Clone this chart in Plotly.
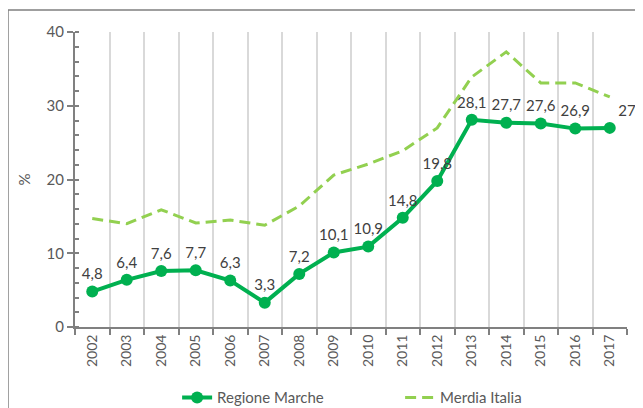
import plotly.graph_objects as go

years = [str(y) for y in range(2002, 2018)]
marche = [4.8, 6.4, 7.6, 7.7, 6.3, 3.3, 7.2, 10.1, 10.9, 14.8, 19.8, 28.1, 27.7, 27.6, 26.9, 27]
italia = [14.7, 14.0, 15.9, 14.1, 14.5, 13.8, 16.4, 20.6, 22.1, 23.9, 27.0, 33.9, 37.3, 33.1, 33.1, 31.2]
y_ticks = [0, 10, 20, 30, 40]

def fmt(v):
    s = ("%g" % v)
    return s.replace(".", ",")

labels = [fmt(v) for v in marche]
positions = ["top center"] * (len(marche) - 1) + ["top right"]

FONT = "Lato, Open Sans, sans-serif"
GRAY = "#595959"

fig = go.Figure()
fig.add_trace(go.Scatter(
    x=years, y=marche, name="Regione Marche", mode="lines+markers+text",
    line=dict(color="#00B050", width=4),
    marker=dict(color="#00B050", size=12),
    text=labels, textposition=positions, cliponaxis=False,
    textfont=dict(family=FONT, size=15, color="#404040"),
))
fig.add_trace(go.Scatter(
    x=years, y=italia, name="Merdia Italia", mode="lines",
    line=dict(color="#92D050", width=3, dash="11px,6px"),
))

fig.update_layout(
    width=643, height=408,
    margin=dict(l=67, r=24, t=24, b=89, autoexpand=False),
    paper_bgcolor="white", plot_bgcolor="white",
    font=dict(family=FONT, color=GRAY, size=14),
    showlegend=True,
    legend=dict(orientation="h", x=0.185, xanchor="left", y=-0.24, yanchor="middle",
                entrywidth=178, entrywidthmode="pixels",
                font=dict(size=15, color=GRAY), tracegroupgap=0),
    xaxis=dict(
        type="category", tickson="boundaries", showgrid=True, gridcolor="#D9D9D9", gridwidth=2,
        showline=True, linecolor="#808080", linewidth=2, automargin=False,
        ticks="outside", ticklen=6, tickcolor="#808080", tickwidth=1.5,
        tickangle=-90, tickfont=dict(size=14, color=GRAY),
        range=[-0.5, 15.5],
    ),
    yaxis=dict(
        range=[0, 40], tickvals=y_ticks, showgrid=False, zeroline=False,
        showline=True, linecolor="#808080", linewidth=2, automargin=False,
        ticks="outside", ticklen=6, tickcolor="#808080", tickwidth=1.5,
        tickfont=dict(size=15, color=GRAY),
        minor=dict(dtick=2, ticks="inside", ticklen=4, tickcolor="#808080", showgrid=False),
        title=dict(text="%", font=dict(size=15, color=GRAY), standoff=12),
    ),
    shapes=[dict(type="rect", xref="paper", yref="paper",
                 x0=-0.1214, x1=1.3, y0=1.0746, y1=-0.6,
                 line=dict(color="#808080", width=1.5), layer="below")],
)

fig.write_html("out.html")
